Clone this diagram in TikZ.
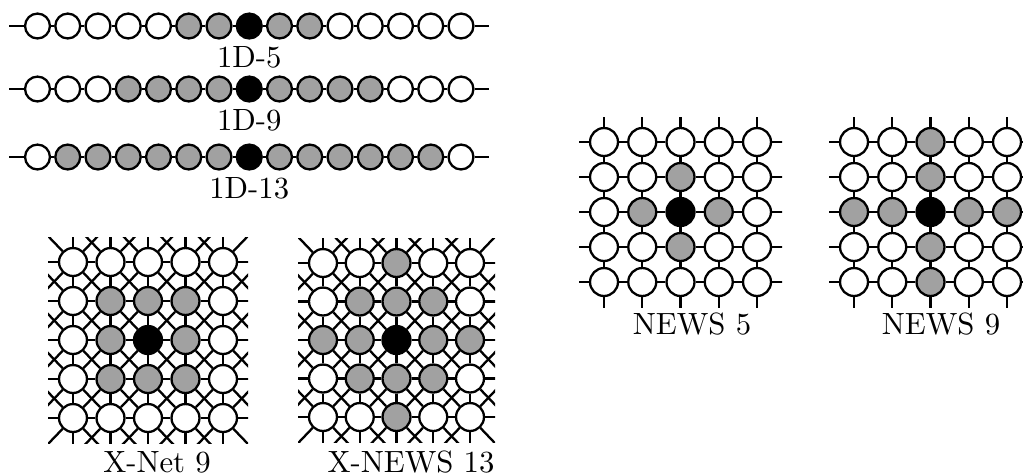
\documentclass[tikz,border=0pt]{standalone}
\usetikzlibrary{positioning}

% a row of 15 beads with stubs at both ends
\newcommand{\beadrow}[4]{%
  \foreach \kind [count=\j from 0] in {#3}
    \node[cell\kind, minimum size=8.1pt] (#1-\j) at ({37.5+30.25*\j}, #2) {};
  \coordinate (#1-in) at (9, #2);
  \coordinate (#1-out) at (489, #2);
  \draw[link] (#1-in) -- (#1-0);
  \foreach \j [evaluate=\j as \k using int(\j+1)] in {0,...,13}
    \draw[link] (#1-\j) -- (#1-\k);
  \draw[link] (#1-14) -- (#1-out);
  \node[lbl, below=1pt of #1-7] (#1-lbl) {#4};
}

% a 5x5 grid: name, x0, y0, dx, dy, neighbour steps, cell rows
\newcommand{\cellgrid}[7]{%
  \foreach \i in {-1,...,5}
    \foreach \j in {-1,...,5}
      \coordinate (#1-\i-\j) at ({#2+#4*\j}, {#3+#5*\i});
  \foreach \cells [count=\i from 0] in {#7}
    \foreach \kind [count=\j from 0] in \cells
      \node[cell\kind] (#1-\i-\j) at (#1-\i-\j) {};
  \begin{scope}
    \clip ({#2-25}, {#3-25}) rectangle ({#2+4*#4+25}, {#3+4*#5+25});
    \foreach \i in {0,...,4}
      \foreach \j in {0,...,4}
        \foreach \di/\dj in {#6} {
          \pgfmathtruncatemacro\nbi{\i+\di}
          \pgfmathtruncatemacro\nbj{\j+\dj}
          \pgfmathtruncatemacro\keep{(\nbi<0)||(\nbi>4)||(\nbj<0)||(\nbj>4)||(\nbi>\i)||((\nbi==\i)&&(\nbj>\j))}
          \ifnum\keep=1 \draw[link] (#1-\i-\j) -- (#1-\nbi-\nbj);\fi
        }
  \end{scope}
}

\begin{document}
\begin{tikzpicture}[
  x=0.3255pt, y=-0.3255pt,
  cell/.style={circle, draw, line width=0.75pt, inner sep=0pt, minimum size=9.1pt},
  cellw/.style={cell, fill=white},
  cellg/.style={cell, fill=black!37},
  cellb/.style={cell, fill=black},
  link/.style={line width=0.75pt},
  lbl/.style={inner sep=1pt}]
  \useasboundingbox (0,0) rectangle (1023,475);

  % 1D neighbourhoods
  \beadrow{o5}{26}{w,w,w,w,w,g,g,b,g,g,w,w,w,w,w}{1D-5}
  \beadrow{o9}{89}{w,w,w,g,g,g,g,b,g,g,g,g,w,w,w}{1D-9}
  \beadrow{o13}{157}{w,g,g,g,g,g,g,b,g,g,g,g,g,g,w}{1D-13}

  % 2D neighbourhoods
  \cellgrid{xn}{73}{262}{37.5}{39}{0/1,1/0,0/-1,-1/0,1/1,1/-1,-1/1,-1/-1}
    {{w,w,w,w,w},{w,g,g,g,w},{w,g,b,g,w},{w,g,g,g,w},{w,w,w,w,w}}
  \cellgrid{xw}{323}{263}{36.75}{38.5}{0/1,1/0,0/-1,-1/0,1/1,1/-1,-1/1,-1/-1}
    {{w,w,g,w,w},{w,g,g,g,w},{g,g,b,g,g},{w,g,g,g,w},{w,w,g,w,w}}
  \cellgrid{nw}{604}{142}{38.25}{35}{0/1,1/0,0/-1,-1/0}
    {{w,w,w,w,w},{w,w,g,w,w},{w,g,b,g,w},{w,w,g,w,w},{w,w,w,w,w}}
  \cellgrid{nn}{854}{142}{38.25}{35}{0/1,1/0,0/-1,-1/0}
    {{w,w,g,w,w},{w,w,g,w,w},{g,g,b,g,g},{w,w,g,w,w},{w,w,g,w,w}}

  \node[lbl] (xn-lbl) at (157,462) {X-Net 9};
  \node[lbl] (xw-lbl) at (411,462) {X-NEWS 13};
  \node[lbl] (nw-lbl) at (692,324) {NEWS 5};
  \node[lbl] (nn-lbl) at (941,324) {NEWS 9};
\end{tikzpicture}
\end{document}
